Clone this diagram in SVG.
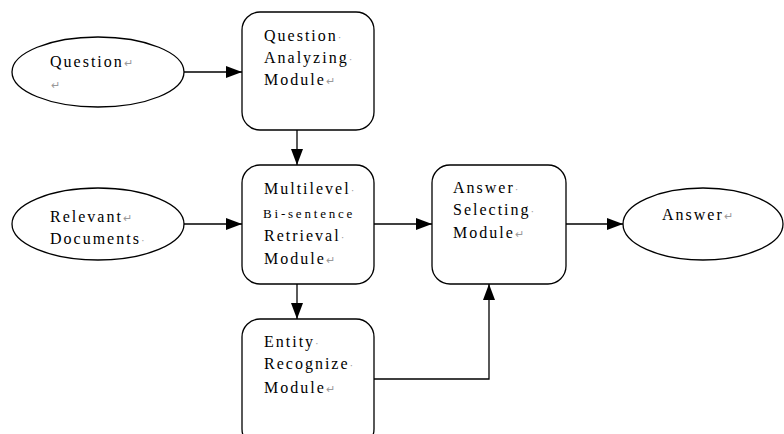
<svg xmlns="http://www.w3.org/2000/svg" width="784" height="434" viewBox="0 0 784 434">
<style>
.shape{fill:#fff;stroke:#000;stroke-width:1.3}
.t{font-family:'Liberation Serif',serif;font-size:16px;letter-spacing:2px;fill:#000}
.s{font-size:13px;letter-spacing:2.8px}
.m{fill:#999;font-size:11px;letter-spacing:0}
.c{fill:none;stroke:#000;stroke-width:1.3}
</style>
<defs>
<marker id="ah" markerUnits="userSpaceOnUse" markerWidth="17" markerHeight="13" refX="16" refY="6" orient="auto">
<path d="M0,0 L16,6 L0,12 z" fill="#000"/>
</marker>
</defs>
<rect width="784" height="434" fill="#fff"/>
<g id="connectors">
<line class="c" x1="184" y1="72" x2="242" y2="72" marker-end="url(#ah)"/>
<line class="c" x1="297" y1="130" x2="297" y2="165" marker-end="url(#ah)"/>
<line class="c" x1="184" y1="224" x2="242" y2="224" marker-end="url(#ah)"/>
<line class="c" x1="374" y1="224" x2="432" y2="224" marker-end="url(#ah)"/>
<line class="c" x1="566" y1="224" x2="623" y2="224" marker-end="url(#ah)"/>
<line class="c" x1="297" y1="284" x2="297" y2="319" marker-end="url(#ah)"/>
<polyline class="c" points="374,379 489,379 489,284" marker-end="url(#ah)"/>
</g>
<g id="question">
<ellipse class="shape" cx="98" cy="72" rx="86" ry="35"/>
<text class="t" x="50" y="67">Question<tspan class="m">↵</tspan></text>
<text class="t m" x="51" y="89">↵</text>
</g>
<g id="question-analyzing">
<rect class="shape" x="242" y="12" width="132" height="118" rx="18"/>
<text class="t" x="264" y="41">Question<tspan class="m">·</tspan></text>
<text class="t" x="264" y="63">Analyzing<tspan class="m">·</tspan></text>
<text class="t" x="264" y="85">Module<tspan class="m">↵</tspan></text>
</g>
<g id="relevant-documents">
<ellipse class="shape" cx="98" cy="224" rx="86" ry="36"/>
<text class="t" x="50" y="222">Relevant<tspan class="m">↵</tspan></text>
<text class="t" x="50" y="244">Documents<tspan class="m">·</tspan></text>
</g>
<g id="multilevel">
<rect class="shape" x="242" y="165" width="132" height="119" rx="18"/>
<text class="t" x="264" y="194">Multilevel<tspan class="m">·</tspan></text>
<text class="t s" x="263" y="218">Bi-sentence</text>
<text class="t" x="264" y="241">Retrieval<tspan class="m">·</tspan></text>
<text class="t" x="264" y="264">Module<tspan class="m">↵</tspan></text>
</g>
<g id="answer-selecting">
<rect class="shape" x="432" y="165" width="134" height="119" rx="18"/>
<text class="t" x="453" y="193">Answer<tspan class="m">·</tspan></text>
<text class="t" x="453" y="215">Selecting<tspan class="m">·</tspan></text>
<text class="t" x="453" y="238">Module<tspan class="m">↵</tspan></text>
</g>
<g id="answer">
<ellipse class="shape" cx="703" cy="224" rx="80" ry="36"/>
<text class="t" x="662" y="220">Answer<tspan class="m">↵</tspan></text>
</g>
<g id="entity-recognize">
<rect class="shape" x="242" y="319" width="132" height="128" rx="18"/>
<text class="t" x="264" y="347">Entity<tspan class="m">·</tspan></text>
<text class="t" x="264" y="369">Recognize<tspan class="m">·</tspan></text>
<text class="t" x="264" y="393">Module<tspan class="m">↵</tspan></text>
</g>
</svg>
